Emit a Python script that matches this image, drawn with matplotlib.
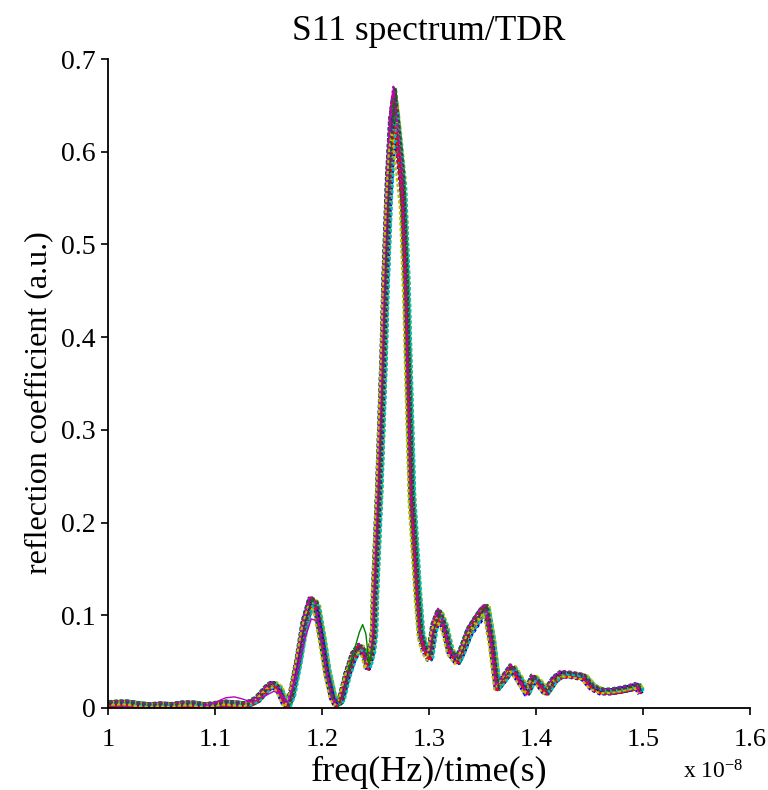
import matplotlib
matplotlib.use("Agg")
import matplotlib.pyplot as plt
import numpy as np

plt.rcParams['font.family'] = ['Liberation Serif', 'DejaVu Serif']
plt.rcParams['mathtext.fontset'] = 'custom'
plt.rcParams['mathtext.rm'] = 'Liberation Serif'
plt.rcParams['mathtext.it'] = 'Liberation Serif'

# base trace (x in units of 1e-8)
base_x = [1.000, 1.010, 1.020, 1.030, 1.040, 1.050, 1.060, 1.070, 1.080, 1.090,
          1.100, 1.110, 1.120, 1.130, 1.140, 1.150, 1.155, 1.160, 1.165, 1.168,
          1.172, 1.178, 1.184, 1.190, 1.195, 1.200, 1.205, 1.210, 1.214, 1.218,
          1.224, 1.230, 1.236, 1.240, 1.243, 1.2465, 1.2486, 1.2495, 1.2533, 1.2575,
          1.2593, 1.2626, 1.2655, 1.2682, 1.2710, 1.2757, 1.2790, 1.2806, 1.2841, 1.2897,
          1.2925, 1.2960, 1.3009, 1.3050, 1.3100, 1.3150, 1.3200, 1.3270, 1.3320, 1.3380,
          1.3440, 1.3500, 1.3540, 1.3590, 1.3640, 1.3700, 1.3780, 1.3850, 1.3920, 1.3980,
          1.4040, 1.4100, 1.4180, 1.4250, 1.4350, 1.4450, 1.4530, 1.4620, 1.4720, 1.4820,
          1.4900, 1.4950, 1.4980]
base_y = [0.004, 0.005, 0.005, 0.003, 0.002, 0.003, 0.002, 0.004, 0.004, 0.002,
          0.003, 0.005, 0.004, 0.003, 0.009, 0.022, 0.026, 0.021, 0.007, 0.002,
          0.014, 0.050, 0.092, 0.116, 0.112, 0.078, 0.040, 0.013, 0.004, 0.008,
          0.036, 0.057, 0.066, 0.060, 0.045, 0.060, 0.081, 0.124, 0.232, 0.380,
          0.462, 0.570, 0.632, 0.655, 0.625, 0.570, 0.462, 0.385, 0.232, 0.124,
          0.081, 0.065, 0.055, 0.088, 0.103, 0.088, 0.062, 0.051, 0.064, 0.083,
          0.094, 0.104, 0.108, 0.072, 0.022, 0.031, 0.044, 0.031, 0.017, 0.033,
          0.026, 0.017, 0.031, 0.037, 0.036, 0.034, 0.023, 0.018, 0.018, 0.020,
          0.022, 0.024, 0.018]

# per-trace variations
shift_x = [-0.0028, 0.0012, -0.0009, 0.0025, -0.0018, 0.0004, 0.0020, -0.0023, 0.0007, -0.0002,
           0.0016, -0.0013, 0.0028, -0.0006, 0.0000, 0.0018, -0.0020, 0.0009, -0.0011, 0.0023,
           -0.0004, 0.0013, -0.0025, 0.0002, 0.0030, -0.0015, -0.0030, 0.0009]
scale_y = [1.00, 0.97, 1.02, 0.95, 0.99, 1.01, 0.96, 0.98, 1.02, 0.94,
           1.00, 0.97, 0.99, 1.02, 0.96, 0.98, 1.01, 0.95, 1.02, 0.97,
           0.99, 0.94, 1.00, 0.96, 0.98, 1.02, 0.95, 1.01]
offset_y = [0.002, -0.002, 0.001, 0.003, -0.001, 0.000, 0.002, -0.003, 0.001, 0.003,
            -0.002, 0.000, 0.002, -0.001, 0.003, -0.002, 0.001, 0.000, -0.003, 0.002,
            0.001, -0.001, 0.003, -0.002, 0.000, 0.002, -0.001, 0.001]

# outlier segments
mag_x = [1.090, 1.100, 1.110, 1.118, 1.125, 1.135, 1.145, 1.155, 1.162, 1.168, 1.175, 1.184, 1.190, 1.196]
mag_y = [0.002, 0.006, 0.011, 0.012, 0.010, 0.006, 0.012, 0.018, 0.015, 0.006, 0.030, 0.075, 0.096, 0.094]
grn_x = [1.224, 1.230, 1.235, 1.238, 1.241, 1.244, 1.247]
grn_y = [0.040, 0.062, 0.082, 0.090, 0.080, 0.048, 0.065]

colors = [(0, 0, 1), (0, 0.5, 0), (1, 0, 0), (0, 0.75, 0.75),
          (0.75, 0, 0.75), (0.75, 0.75, 0), (0.25, 0.25, 0.25)]

fig = plt.figure(figsize=(7.68, 7.90), dpi=100)
ax = fig.add_axes([0.1406, 0.1038, 0.836, 0.8215])

bx = np.array(base_x)
by = np.array(base_y)
for i in range(len(shift_x)):
    ax.plot(bx + shift_x[i], by * scale_y[i] + offset_y[i],
            color=colors[i % 7], lw=1.6, ls=(i % 3, (1.5, 1.0)))
ax.plot(mag_x, mag_y, color=(0.75, 0, 0.75), lw=1.0)
ax.plot(grn_x, grn_y, color=(0, 0.5, 0), lw=1.0)

ax.set_xlim(1.0, 1.6)
ax.set_ylim(0, 0.7)
ax.set_xticks([1.0, 1.1, 1.2, 1.3, 1.4, 1.5, 1.6])
ax.set_xticklabels(['1', '1.1', '1.2', '1.3', '1.4', '1.5', '1.6'])
ax.set_yticks([0, 0.1, 0.2, 0.3, 0.4, 0.5, 0.6, 0.7])
ax.set_yticklabels(['0', '0.1', '0.2', '0.3', '0.4', '0.5', '0.6', '0.7'])
ax.tick_params(direction='out', length=5, width=1.2, pad=4)
ax.tick_params(axis='x', labelsize=19, pad=10)
ax.tick_params(axis='y', labelsize=20, pad=4)
for s in ['top', 'right']:
    ax.spines[s].set_visible(False)
for s in ['left', 'bottom']:
    ax.spines[s].set_linewidth(1.3)

ax.set_title('S11 spectrum/TDR', fontsize=25.5, pad=14)
ax.set_xlabel('freq(Hz)/time(s)', fontsize=26, labelpad=4)
ax.set_ylabel('reflection coefficient (a.u.)', fontsize=23)
ax.yaxis.set_label_coords(-0.086, 0.47)
fig.text(0.889, 0.008, r'x 10$^{-8}$', fontsize=17, ha='left', va='bottom')

fig.savefig('out.png', dpi=100)
